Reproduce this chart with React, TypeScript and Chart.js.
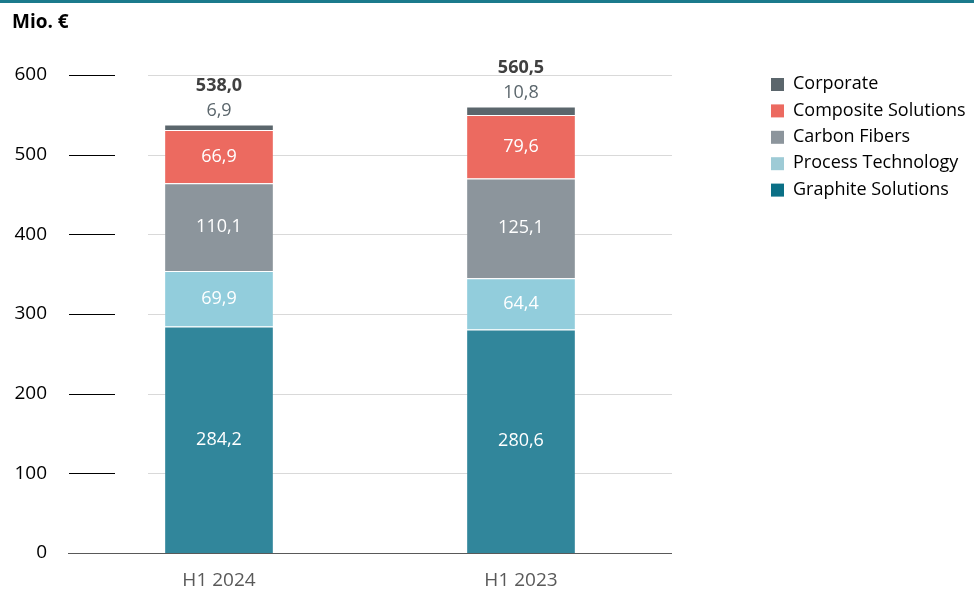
import React, { useEffect, useRef } from "react";
import { Chart, registerables } from "chart.js";

Chart.register(...registerables);

const categories = ["H1 2024", "H1 2023"];
const graphite = [284.2, 280.6];
const processTech = [69.9, 64.4];
const carbonFibers = [110.1, 125.1];
const composite = [66.9, 79.6];
const corporate = [6.9, 10.8];
const totals = [538.0, 560.5];
const yTicks = [0, 100, 200, 300, 400, 500, 600];

const seriesNames = ["Graphite Solutions", "Process Technology", "Carbon Fibers", "Composite Solutions", "Corporate"];
const barColors = ["#31869b", "#92cddc", "#8c959c", "#ec6a60", "#5b666c"];
const legendColors = ["#0b7086", "#9ecbd6", "#8c959c", "#ec6a60", "#5b666c"];

const FONT = "'Open Sans', sans-serif";
const fmt = (v: number) => v.toFixed(1).replace(".", ",");

export default function App() {
  const ref = useRef<HTMLCanvasElement>(null);
  useEffect(() => {
    const canvas = ref.current!;
    const custom = {
      id: "custom",
      beforeDatasetsDraw(chart: any) {
        const ctx = chart.ctx;
        const ys = chart.scales.y;
        const area = chart.chartArea;
        ctx.save();
        yTicks.forEach((t) => {
          if (t === 0) return;
          const y = Math.round(ys.getPixelForValue(t)) + 0.5;
          ctx.strokeStyle = "#000000";
          ctx.lineWidth = 1;
          ctx.beginPath();
          ctx.moveTo(area.left + 1, y);
          ctx.lineTo(115, y);
          ctx.stroke();
          ctx.strokeStyle = "#d9d9d9";
          ctx.beginPath();
          ctx.moveTo(148, y);
          ctx.lineTo(area.right, y);
          ctx.stroke();
        });
        ctx.restore();
      },
      afterDatasetsDraw(chart: any) {
        const ctx = chart.ctx;
        const ys = chart.scales.y;
        const area = chart.chartArea;
        ctx.save();
        const y0 = Math.round(ys.getPixelForValue(0)) + 0.5;
        ctx.strokeStyle = "#595959";
        ctx.lineWidth = 1;
        ctx.beginPath();
        ctx.moveTo(area.left, y0);
        ctx.lineTo(area.right, y0);
        ctx.stroke();
        ctx.fillStyle = "#1b7a8c";
        ctx.fillRect(0, 0, chart.width, 3);
        ctx.fillStyle = "#000000";
        ctx.font = `bold 19px ${FONT}`;
        ctx.textAlign = "left";
        ctx.textBaseline = "middle";
        ctx.fillText("Mio. €", 12, 23);
        ctx.textAlign = "center";
        for (let d = 0; d < 4; d++) {
          const meta = chart.getDatasetMeta(d);
          meta.data.forEach((bar: any, i: number) => {
            const v = chart.data.datasets[d].data[i] as number;
            ctx.fillStyle = "#ffffff";
            ctx.font = `18px ${FONT}`;
            ctx.fillText(fmt(v), bar.x, (bar.y + bar.base) / 2);
          });
        }
        const cmeta = chart.getDatasetMeta(4);
        cmeta.data.forEach((bar: any, i: number) => {
          const top = bar.y;
          ctx.fillStyle = "#5b666c";
          ctx.font = `18px ${FONT}`;
          ctx.fillText(fmt(corporate[i]), bar.x, top - 14);
          ctx.fillStyle = "#404040";
          ctx.font = `bold 18px ${FONT}`;
          ctx.fillText(fmt(totals[i]), bar.x, top - 39);
        });
        ctx.textAlign = "left";
        ctx.font = `18px ${FONT}`;
        for (let k = 0; k < 5; k++) {
          const idx = 4 - k;
          const cy = 84 + k * 26.4;
          ctx.fillStyle = legendColors[idx];
          ctx.fillRect(771, cy - 6, 13, 13);
          ctx.fillStyle = "#000000";
          ctx.fillText(seriesNames[idx], 793, cy);
        }
        ctx.restore();
      },
    };
    const data = [graphite, processTech, carbonFibers, composite, corporate];
    const chart = new Chart(canvas, {
      type: "bar",
      data: {
        labels: categories,
        datasets: data.map((d, i) => ({
          label: seriesNames[i],
          data: d,
          backgroundColor: barColors[i],
          borderColor: "#ffffff",
          borderWidth: { top: 1, bottom: 0, left: 0, right: 0 },
          borderSkipped: false,
          barPercentage: 0.357,
          categoryPercentage: 1,
        })),
      },
      options: {
        animation: false,
        responsive: false,
        maintainAspectRatio: false,
        layout: { padding: { left: 0, right: 302, top: 75, bottom: 0 } },
        plugins: { legend: { display: false }, tooltip: { enabled: false } },
        scales: {
          x: {
            stacked: true,
            grid: { display: false, drawTicks: false },
            border: { display: false },
            ticks: { color: "#595959", font: { family: FONT, size: 19 }, padding: 16 },
            afterFit: (s: any) => { s.height = 36; },
          },
          y: {
            stacked: true,
            min: 0,
            max: 600,
            grid: { display: false, drawTicks: false },
            border: { display: false },
            ticks: { stepSize: 100, color: "#000000", font: { family: FONT, size: 19 }, padding: 21 },
            afterFit: (s: any) => { s.width = 68; },
          },
        },
      },
      plugins: [custom],
    });
    return () => chart.destroy();
  }, []);
  return (
    <div style={{ position: "fixed", left: 0, top: 0, width: 974, height: 589, background: "#fff" }}>
      <canvas ref={ref} width={974} height={589} style={{ width: 974, height: 589, display: "block" }} />
    </div>
  );
}
